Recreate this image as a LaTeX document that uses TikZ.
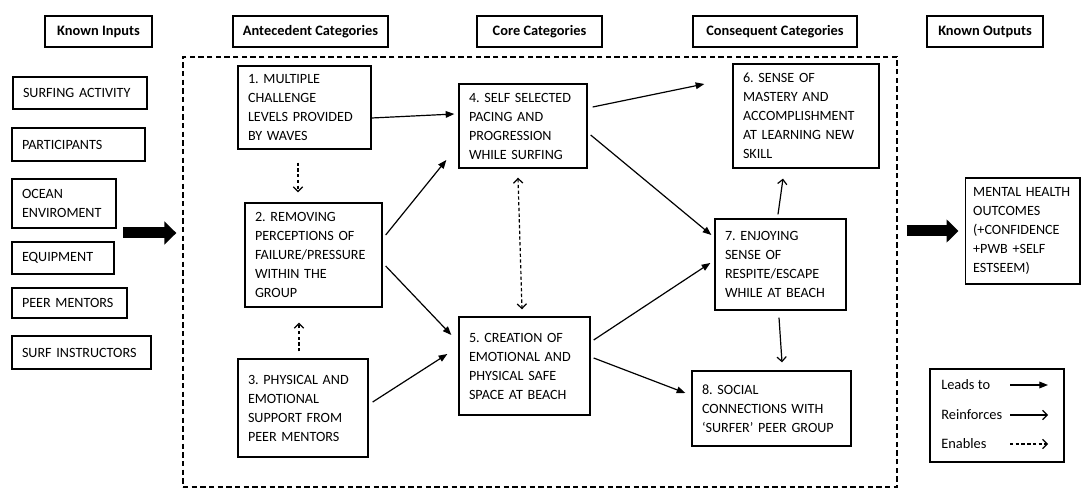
\documentclass[tikz,border=0pt]{standalone}
\usepackage{fontspec}
\setmainfont{Carlito}
\usetikzlibrary{arrows.meta,calc}
\begin{document}
\frenchspacing
\begin{tikzpicture}[x=0.75pt,y=-0.75pt,
  headbox/.style={draw, line width=1pt, font=\fontsize{10.8pt}{13pt}\selectfont\bfseries, minimum height=23.25pt, inner sep=0pt},
  inbox/.style={draw, line width=1pt, font=\fontsize{10.6pt}{14.25pt}\selectfont, align=left, inner xsep=7.5pt, inner ysep=2pt},
  catbox/.style={draw, line width=1pt, font=\fontsize{10.6pt}{14.25pt}\selectfont, align=left, inner xsep=7.5pt, inner ysep=3pt},
  legtext/.style={right, inner sep=0pt, font=\fontsize{10.8pt}{13pt}\selectfont},
  leads/.style={line width=0.9pt, -{Triangle[length=6.5pt,width=5pt]}},
  reinforces/.style={line width=0.9pt, -{Straight Barb[length=3.5pt,width=7pt]}},
  enables/.style={line width=0.9pt, dash pattern=on 2.5pt off 1.8pt, -{Straight Barb[length=3.5pt,width=7pt]}},
  bigarrow/.style={line width=8.25pt, -{Triangle[length=9pt,width=17pt]}}]
\useasboundingbox (0,0) rectangle (1081,488);
\node [headbox, minimum width=80.25pt] (hin) at (98.5,31.5) {Known Inputs};
\node [headbox, minimum width=116.25pt] (hant) at (310.5,31.5) {Antecedent Categories};
\node [headbox, minimum width=93.75pt] (hcore) at (539.5,31.5) {Core Categories};
\node [headbox, minimum width=123pt] (hcon) at (775,31.5) {Consequent Categories};
\node [headbox, minimum width=87pt] (hout) at (985,31.5) {Known Outputs};
\node [draw, line width=1pt, dash pattern=on 4pt off 2.5pt, inner sep=0pt, minimum width=535.5pt, minimum height=322.5pt] (frame) at (540,272) {};
\node [inbox, text width=85.5pt, minimum height=24pt] (surf) at (80,93) {SURFING ACTIVITY};
\node [inbox, text width=84.75pt, minimum height=24.75pt] (part) at (78.5,144.5) {PARTICIPANTS};
\node [inbox, text width=63pt, minimum height=36.75pt] (ocean) at (64,203.5) {OCEAN\\ENVIROMENT};
\node [inbox, text width=61.5pt, minimum height=24pt] (equip) at (63,258) {EQUIPMENT};
\node [inbox, text width=71.25pt, minimum height=22.5pt] (peer) at (69.5,303) {PEER MENTORS};
\node [inbox, text width=89.25pt, minimum height=24.75pt] (instr) at (81.5,352.5) {SURF INSTRUCTORS};
\node [catbox, text width=84.75pt, minimum height=62.25pt] (n1) at (304.5,107.5) {1. MULTIPLE\\CHALLENGE\\LEVELS PROVIDED\\BY WAVES};
\node [catbox, text width=87.75pt, minimum height=78pt] (n2) at (313.5,255) {2. REMOVING\\PERCEPTIONS OF\\FAILURE/PRESSURE\\WITHIN THE\\GROUP};
\node [catbox, text width=82.5pt, minimum height=73.5pt] (n3) at (303,408) {3. PHYSICAL AND\\EMOTIONAL\\SUPPORT FROM\\PEER MENTORS};
\node [catbox, text width=81pt, minimum height=63pt] (n4) at (523,126) {4. SELF SELECTED\\PACING AND\\PROGRESSION\\WHILE SURFING};
\node [catbox, text width=83.25pt, minimum height=73.5pt] (n5) at (524.5,366) {5. CREATION OF\\EMOTIONAL AND\\PHYSICAL SAFE\\SPACE AT BEACH};
\node [catbox, text width=94.5pt, minimum height=78pt] (n6) at (806,116) {6. SENSE OF\\MASTERY AND\\ACCOMPLISHMENT\\AT LEARNING NEW\\SKILL};
\node [catbox, text width=83.25pt, minimum height=68.25pt] (n7) at (780.5,264.5) {7. ENJOYING\\SENSE OF\\RESPITE/ESCAPE\\WHILE AT BEACH};
\node [catbox, text width=104.25pt, minimum height=56.25pt] (n8) at (771.5,408.5) {8. SOCIAL\\CONNECTIONS WITH\\`SURFER' PEER GROUP};
\node [catbox, inner xsep=6pt, text width=74pt, minimum height=79.5pt] (out) at (1022.5,231) {MENTAL HEALTH\\OUTCOMES\\(+CONFIDENCE\\+PWB +SELF\\ESTSEEM)};
\coordinate (src) at (123,233);
\draw [bigarrow] (src) -- ($(src -| frame.west)+(-6,0)$);
\draw [bigarrow] ($(frame.east |- out.west)+(9,0)$) -- ($(out.west)+(-6,0)$);
\draw [leads] ($(n1.east)+(0,10.5)$) -- ($(n4.west)+(-4,-12)$);
\draw [leads] ($(n4.east)+(5,-19)$) -- ($(n6.west)+(-28,-32)$);
\draw [leads] ($(n4.east)+(3,9)$) -- ($(n7.west)+(-3,-29.5)$);
\draw [reinforces] ($(n7.north)+(-2.5,-4)$) -- ($(n6.south)+(-23,10)$);
\draw [leads] ($(n2.east)+(3,-20)$) -- ($(n4.west)+(-12,34)$);
\draw [leads] ($(n2.east)+(3,11)$) -- ($(n5.west)+(-7,-31)$);
\draw [leads] ($(n3.east)+(4,-6)$) -- ($(n5.west)+(-11,-12)$);
\draw [leads] ($(n5.east)+(3,-26)$) -- ($(n7.west)+(-4,-1.5)$);
\draw [leads] ($(n5.east)+(3,-8)$) -- ($(n8.west)+(-6,-15.5)$);
\draw [reinforces] ($(n7.south)+(-1.5,7)$) -- ($(n8.north)+(10.5,-8)$);
\draw [enables] ($(n1.south)+(-6.5,13)$) -- ($(n2.north)+(-15.5,-10)$);
\draw [enables] ($(n3.north)+(-4,-7)$) -- ($(n2.south)+(-14.5,15)$);
\draw [enables, {Straight Barb[length=3.5pt,width=7pt]}-{Straight Barb[length=3.5pt,width=7pt]}] ($(n4.south)+(-5,9)$) -- ($(n5.north)+(-2.5,-7)$);
\node [draw, line width=1pt, minimum width=100.5pt, minimum height=69.75pt] (legend) at (997,415.5) {};
\node [legtext] (tlead) at (941,385) {Leads to};
\node [legtext] (treinf) at (941,415) {Reinforces};
\node [legtext] (tenab) at (941,444) {Enables};
\coordinate (la) at (1010,385);
\coordinate (lb) at (1048,385);
\coordinate (ra) at (1010,415);
\coordinate (rb) at (1048,415);
\coordinate (ea) at (1010,444);
\coordinate (eb) at (1048,444);
\draw [leads] (la) -- (lb);
\draw [reinforces] (ra) -- (rb);
\draw [enables] (ea) -- (eb);
\end{tikzpicture}
\end{document}
